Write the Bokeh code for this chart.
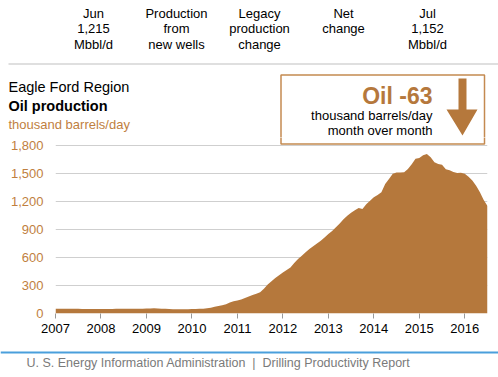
from bokeh.plotting import figure
from bokeh.layouts import column
from bokeh.models import FixedTicker, NumeralTickFormatter, Range1d, ColumnDataSource
from bokeh.core.properties import value
from bokeh.embed import file_html
from bokeh.resources import INLINE

# ---- data (thousand barrels/day, monthly, Jan 2007 - Jul 2016) ----
prod_2007 = [52, 52, 51, 51, 50, 50, 50, 49, 49, 49, 49, 49]
prod_2008 = [49, 49, 49, 49, 50, 50, 50, 50, 50, 51, 51, 52]
prod_2009 = [53, 54, 55, 54, 52, 50, 48, 46, 45, 45, 45, 45]
prod_2010 = [48, 49, 50, 52, 56, 62, 72, 80, 88, 100, 118, 130]
prod_2011 = [140, 150, 165, 182, 197, 212, 228, 265, 310, 345, 380, 410]
prod_2012 = [440, 465, 494, 540, 585, 620, 655, 691, 720, 750, 780, 815]
prod_2013 = [852, 885, 923, 965, 1010, 1048, 1080, 1105, 1131, 1120, 1170, 1209]
prod_2014 = [1245, 1270, 1298, 1388, 1440, 1496, 1510, 1512, 1513, 1549, 1600, 1657]
prod_2015 = [1667, 1695, 1710, 1674, 1620, 1603, 1595, 1545, 1535, 1515, 1505, 1509]
prod_2016 = [1496, 1465, 1424, 1370, 1300, 1215, 1152]

years = [2007, 2008, 2009, 2010, 2011, 2012, 2013, 2014, 2015, 2016]
yearly = [prod_2007, prod_2008, prod_2009, prod_2010, prod_2011,
          prod_2012, prod_2013, prod_2014, prod_2015, prod_2016]
y_ticks = [0, 300, 600, 900, 1200, 1500, 1800]

header_cols = [["Jun", "1,215", "Mbbl/d"],
               ["Production", "from", "new wells"],
               ["Legacy", "production", "change"],
               ["Net", "change"],
               ["Jul", "1,152", "Mbbl/d"]]
region = "Eagle Ford Region"
title = "Oil production"
unit = "thousand barrels/day"
change_label = "Oil -63"
change_sub = ["thousand barrels/day", "month over month"]
footer = "U. S. Energy Information Administration\u00a0\u00a0|\u00a0\u00a0Drilling Productivity Report"

xs, vals = [], []
for yr, arr in zip(years, yearly):
    for m, v in enumerate(arr):
        xs.append(yr + m / 12.0)
        vals.append(v)
src = ColumnDataSource(dict(x=xs, y=vals))

BROWN = "#b5783c"
LABEL_BROWN = "#bf7f3f"
BOX_LINE = "#c48a50"
FONT = "Liberation Sans"
W = 498
TOP_H, MAIN_H, FOOT_H = 137, 206, 34
FRAME_L, FRAME_R, FRAME_T, FRAME_B = 55, 487, 137, 313
Y_TOP = y_ticks[-1] * (FRAME_B - FRAME_T) / (FRAME_B - 145)


def no_align(f):
    try:
        f.frame_align = False
    except Exception:
        pass


def blank(h):
    f = figure(width=W, height=h, output_backend="svg", toolbar_location=None,
               x_range=Range1d(0, W), y_range=Range1d(h, 0),
               x_axis_location=None, y_axis_location=None,
               min_border_left=0, min_border_right=0, min_border_top=0,
               min_border_bottom=0)
    f.outline_line_color = None
    f.grid.grid_line_color = None
    f.background_fill_color = "white"
    f.border_fill_color = "white"
    no_align(f)
    return f


def txt(f, text, x, y, size="13px", color="black", align="center", style="normal"):
    f.text(x=[x], y=[y], text=[text], text_font=value(FONT), text_font_size=value(size),
           text_color=color, text_align=align, text_baseline="middle",
           text_font_style=style)


def callout_box(f, **kw):
    f.quad(left=[280.5], right=[484], top=[74.5], bottom=[143.5], fill_color="white",
           line_color=BOX_LINE, line_width=1.5, **kw)


# ---------------- header ----------------
top = blank(TOP_H)
col_x = [93, 176, 259, 343, 427]
for cx, lines in zip(col_x, header_cols):
    for i, t in enumerate(lines):
        txt(top, t, cx, 12.5 + 15.5 * i)
top.segment(x0=[8], y0=[63.5], x1=[W], y1=[63.5], line_color="#d4d4d4", line_width=1.5)

txt(top, region, 8, 86, size="14.5px", align="left")
txt(top, title, 8, 105, size="14.5px", align="left", style="bold")
txt(top, unit, 8, 124, size="13px", color=LABEL_BROWN, align="left")

callout_box(top)
txt(top, change_label, 432, 95, size="23px", color=BROWN, align="right", style="bold")
txt(top, change_sub[0], 432, 115, align="right")
txt(top, change_sub[1], 432, 129.5, align="right")
arrow = [(458, 78), (466, 78), (466, 109), (477, 109), (462, 135), (446, 109), (458, 109)]
top.patch(x=[a for a, b in arrow], y=[b for a, b in arrow], fill_color=BROWN,
          line_color=None)

# ---------------- main chart ----------------
p = figure(width=W, height=MAIN_H, output_backend="svg", toolbar_location=None,
           x_range=Range1d(2007, 2016.5), y_range=Range1d(0, Y_TOP),
           min_border_left=FRAME_L, min_border_right=W - FRAME_R, min_border_top=0,
           min_border_bottom=MAIN_H - (FRAME_B - FRAME_T))
p.outline_line_color = None
p.background_fill_color = "white"
p.border_fill_color = "white"
no_align(p)
p.extra_x_ranges = {"px": Range1d(FRAME_L, FRAME_R)}
p.extra_y_ranges = {"px": Range1d(FRAME_B, FRAME_T)}

p.varea(x="x", y1=0, y2="y", source=src, fill_color=BROWN)

p.xgrid.grid_line_color = None
p.ygrid.grid_line_color = "#cfcfcf"
p.ygrid.ticker = FixedTicker(ticks=y_ticks)

# lower edge of the callout box (crosses into the chart panel)
callout_box(p, x_range_name="px", y_range_name="px")

p.xaxis.ticker = FixedTicker(ticks=years)
p.xaxis.major_label_text_font = FONT
p.xaxis.major_label_text_font_size = "13px"
p.xaxis.major_label_text_color = "black"
p.xaxis.major_tick_out = 5
p.xaxis.major_tick_in = 0
p.xaxis.major_tick_line_color = "#999999"
p.xaxis.minor_tick_line_color = None
p.xaxis.axis_line_color = None
p.xaxis.major_label_standoff = 5

p.yaxis.ticker = FixedTicker(ticks=y_ticks)
p.yaxis.formatter = NumeralTickFormatter(format="0,0")
p.yaxis.major_label_text_font = FONT
p.yaxis.major_label_text_font_size = "13px"
p.yaxis.major_label_text_color = LABEL_BROWN
p.yaxis.major_tick_out = 0
p.yaxis.major_tick_in = 0
p.yaxis.minor_tick_line_color = None
p.yaxis.axis_line_color = None
p.yaxis.major_label_standoff = 12

# ---------------- footer ----------------
foot = blank(FOOT_H)
foot.segment(x0=[0], y0=[9], x1=[W], y1=[9], line_color="#4a9fdc", line_width=2)
txt(foot, footer, 26, 19.5, size="12.5px", color="#7a7a7a", align="left")

layout = column(top, p, foot, spacing=0)
open("out.html", "w").write(file_html(layout, INLINE))
